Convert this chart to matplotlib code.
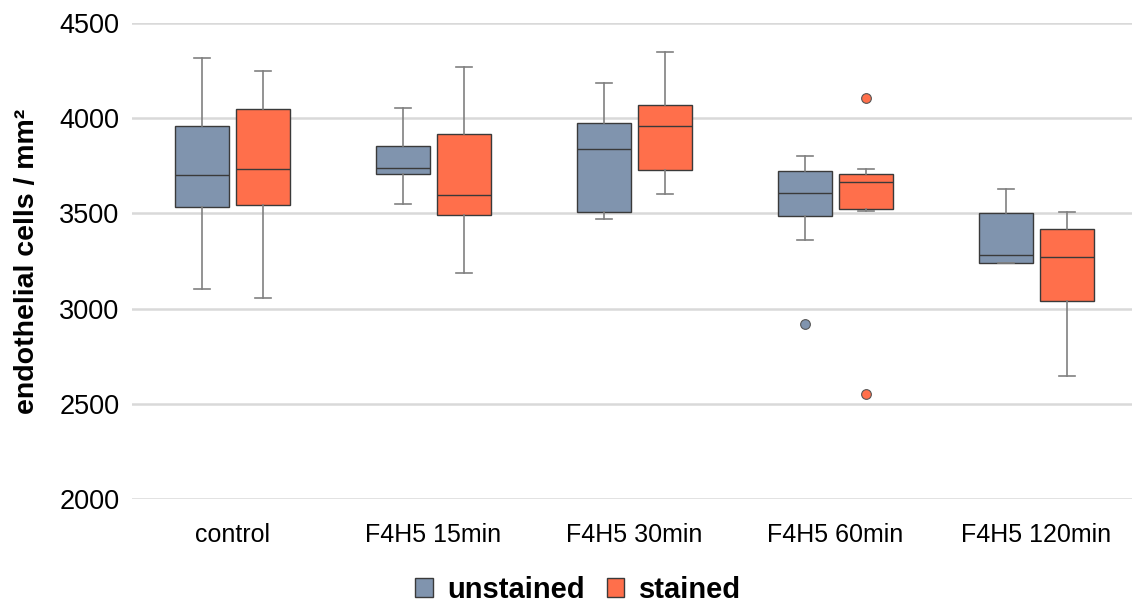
import matplotlib
matplotlib.use("Agg")
from matplotlib import pyplot as plt
from matplotlib.patches import Patch
import numpy as np

plt.rcParams['font.family'] = ['Liberation Sans', 'DejaVu Sans']

categories = ['control', 'F4H5 15min', 'F4H5 30min', 'F4H5 60min', 'F4H5 120min']

# box statistics (cells / mm²)
unst_whislo = [3103, 3548, 3470, 3360, 3241]
unst_q1 = [3534, 3709, 3509, 3488, 3241]
unst_med = [3702, 3737, 3837, 3606, 3282]
unst_q3 = [3958, 3854, 3973, 3723, 3500]
unst_whishi = [4316, 4055, 4185, 3800, 3630]
unst_fliers = [[], [], [], [2921], []]

st_whislo = [3056, 3189, 3600, 3513, 2646]
st_q1 = [3544, 3490, 3726, 3525, 3038]
st_med = [3733, 3597, 3957, 3663, 3273]
st_q3 = [4048, 3917, 4069, 3705, 3416]
st_whishi = [4248, 4267, 4348, 3733, 3509]
st_fliers = [[], [], [], [4105, 2550], []]

blue = '#8094ae'
orange = '#ff6f4b'


def make_stats(lo, q1, med, q3, hi, fl):
    return [dict(whislo=a, q1=b, med=c, q3=d, whishi=e, fliers=f)
            for a, b, c, d, e, f in zip(lo, q1, med, q3, hi, fl)]


fig = plt.figure(figsize=(11.32, 6.03), dpi=100)
ax = fig.add_axes([132 / 1132, 1 - 499 / 603, 1005 / 1132, (499 - 23) / 603])

x = np.arange(len(categories))
for stats, off, col in [(make_stats(unst_whislo, unst_q1, unst_med, unst_q3, unst_whishi, unst_fliers), -0.15, blue),
                        (make_stats(st_whislo, st_q1, st_med, st_q3, st_whishi, st_fliers), 0.15, orange)]:
    ax.bxp(stats, positions=x + off, widths=0.27, patch_artist=True, showfliers=True,
           boxprops=dict(facecolor=col, edgecolor='#3a3a3a', linewidth=1.0),
           medianprops=dict(color='#3a3a3a', linewidth=1.0),
           whiskerprops=dict(color='#808080', linewidth=1.2),
           capprops=dict(color='#808080', linewidth=1.2),
           capwidths=0.08,
           flierprops=dict(marker='o', markerfacecolor=col, markeredgecolor='#555555',
                           markersize=7, markeredgewidth=0.8),
           zorder=3)

ax.set_xlim(-0.5, 4.5)
ax.set_ylim(2000, 4500)
ax.set_yticks([2000, 2500, 3000, 3500, 4000, 4500])
ax.set_xticks(x)
ax.set_xticklabels(categories, fontsize=18)
ax.tick_params(axis='y', labelsize=19.5, length=0, pad=9)
ax.tick_params(axis='x', length=0, pad=17)
ax.yaxis.grid(True, color='#d9d9d9', linewidth=1.8, zorder=0)
ax.set_axisbelow(True)
for s in ax.spines.values():
    s.set_visible(False)

ax.set_ylabel('endothelial cells / mm²', fontsize=20.5, fontweight='bold')
ax.yaxis.set_label_coords(-(132 - 40) / 1005, 0.5)

handles = [Patch(facecolor=blue, edgecolor='#3a3a3a', label='unstained'),
           Patch(facecolor=orange, edgecolor='#3a3a3a', label='stained')]
fig.legend(handles=handles, loc='center', bbox_to_anchor=(578 / 1132, 1 - 590 / 603), ncol=2,
           frameon=False, prop=dict(size=21, weight='bold'), handlelength=0.6, handleheight=0.6,
           handletextpad=0.5, columnspacing=0.75)

fig.savefig('out.png', dpi=100)
